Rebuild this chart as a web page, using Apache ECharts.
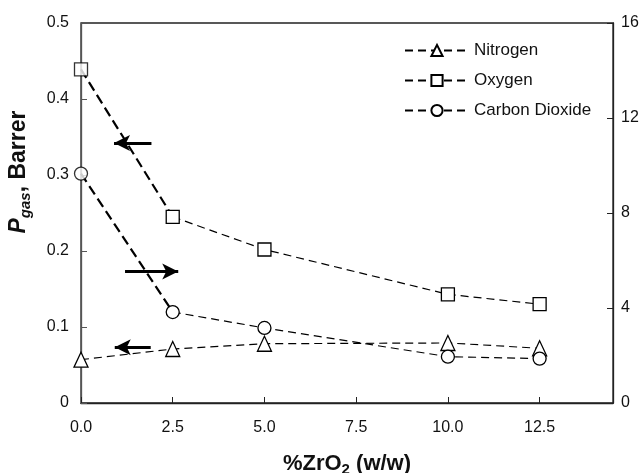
<!DOCTYPE html>
<html><head><meta charset="utf-8">
<script src="https://cdn.jsdelivr.net/npm/echarts@6/dist/echarts.min.js"></script>
<style>html,body{margin:0;padding:0;background:#fff}#c{width:642px;height:473px}</style>
</head><body><div id="c"></div>
<script>
const xValues = [0, 2.5, 5, 10, 12.5];
const nitrogen = [0.057, 0.071, 0.078, 0.079, 0.072];      // left axis
const oxygen = [0.439, 0.245, 0.202, 0.143, 0.130];        // left axis
const carbonDioxide = [9.66, 3.83, 3.16, 1.95, 1.87];      // right axis
const xTicks = [0, 2.5, 5, 7.5, 10, 12.5];
const leftTicks = [0, 0.1, 0.2, 0.3, 0.4, 0.5];
const rightTicks = [0, 4, 8, 12, 16];
// annotation arrows in left-axis data units: [xFrom, xTo, y]
const arrows = [[1.92, 0.9, 0.342], [1.2, 2.65, 0.173], [1.9, 0.92, 0.0735]];

const FONT = 'Liberation Sans, Arial, sans-serif';
const pts = arr => xValues.map((x, i) => [x, arr[i]]);
const lineBase = { color: '#000', type: [8, 5], width: 1.2 };
const itemBase = { color: '#fff', borderColor: '#000', borderWidth: 1.3 };

const chart = echarts.init(document.getElementById('c'), null, { renderer: 'canvas' });
chart.setOption({
  animation: false,
  textStyle: { fontFamily: FONT },
  grid: { left: 81, right: 29, top: 23, bottom: 70, show: true, borderColor: '#222', borderWidth: 1.3,
    containLabel: false, outerBoundsMode: 'none' },
  legend: {
    orient: 'vertical', left: 399, top: 37, itemWidth: 64, itemHeight: 14, itemGap: 13,
    textStyle: { fontSize: 17, color: '#111', fontFamily: FONT },
    data: ['Nitrogen', 'Oxygen', 'Carbon Dioxide']
  },
  graphic: [{
    type: 'text', x: 19, y: 172, rotation: Math.PI / 2,
    style: {
      text: '{p|P}{g|gas}{n|, Barrer}', align: 'center', verticalAlign: 'middle',
      fontFamily: FONT, fill: '#111',
      rich: {
        p: { fontSize: 23, fontWeight: 'bold', fontStyle: 'italic', fontFamily: FONT },
        g: { fontSize: 15, fontWeight: 'bold', fontStyle: 'italic', fontFamily: FONT, verticalAlign: 'bottom', padding: [13, 0, 0, 0] },
        n: { fontSize: 23, fontWeight: 'bold', fontFamily: FONT }
      }
    }
  }],
  xAxis: {
    type: 'value', min: 0, max: 14.5, interval: 2.5,
    name: '%ZrO{s|2} (w/w)', nameLocation: 'middle', nameGap: 47,
    nameTextStyle: { fontSize: 22, fontWeight: 'bold', color: '#111', fontFamily: FONT,
      rich: { s: { fontSize: 15, fontWeight: 'bold', fontFamily: FONT, verticalAlign: 'bottom', padding: [12, 0, 0, 0] } } },
    axisLine: { lineStyle: { color: '#222', width: 1.3 } },
    axisTick: { inside: true, length: 6, lineStyle: { color: '#222' } },
    axisLabel: { fontSize: 16, color: '#111', margin: 17, showMaxLabel: false,
      formatter: v => xTicks.includes(v) ? v.toFixed(1) : '' },
    splitLine: { show: false }
  },
  yAxis: [{
    type: 'value', min: 0, max: 0.5, interval: 0.1, position: 'left',
    axisLine: { show: true, lineStyle: { color: '#555', width: 1.3 } },
    axisTick: { show: true, inside: true, length: 6, lineStyle: { color: '#555' } },
    axisLabel: { fontSize: 16, color: '#111', margin: 12,
      formatter: v => { const t = leftTicks.find(k => Math.abs(k - v) < 1e-9); return t === undefined ? '' : (t === 0 ? '0' : t.toFixed(1)); } },
    splitLine: { show: false }
  }, {
    type: 'value', min: 0, max: 16, interval: 4, position: 'right',
    axisLine: { show: true, lineStyle: { color: '#222', width: 1.3 } },
    axisTick: { show: true, inside: true, length: 6, lineStyle: { color: '#222' } },
    axisLabel: { fontSize: 16, color: '#111', margin: 8,
      formatter: v => rightTicks.includes(v) ? String(v) : '' },
    splitLine: { show: false }
  }],
  series: [
    { name: 'Oxygen-first', type: 'line', yAxisIndex: 0, data: pts(oxygen).slice(0, 2), symbol: 'none',
      lineStyle: { color: '#000', type: [10, 5], width: 2.2 }, z: 1, silent: true },
    { name: 'CO2-first', type: 'line', yAxisIndex: 1, data: pts(carbonDioxide).slice(0, 2), symbol: 'none',
      lineStyle: { color: '#000', type: [10, 5], width: 2.2 }, z: 1, silent: true },
    { name: 'Nitrogen', type: 'line', yAxisIndex: 0, data: pts(nitrogen), symbol: 'triangle', symbolSize: [14, 15],
      lineStyle: lineBase, itemStyle: itemBase, z: 3 },
    { name: 'Oxygen', type: 'line', yAxisIndex: 0, data: pts(oxygen).slice(1), symbol: 'rect', symbolSize: 13,
      lineStyle: lineBase, itemStyle: itemBase, z: 3 },
    { name: 'Carbon Dioxide', type: 'line', yAxisIndex: 1, data: pts(carbonDioxide).slice(1), symbol: 'circle', symbolSize: 13,
      lineStyle: lineBase, itemStyle: itemBase, z: 3 },
    { name: 'Oxygen-m0', type: 'scatter', yAxisIndex: 0, data: pts(oxygen).slice(0, 1), symbol: 'rect', symbolSize: 13,
      itemStyle: itemBase, z: 4, silent: true },
    { name: 'CO2-m0', type: 'scatter', yAxisIndex: 1, data: pts(carbonDioxide).slice(0, 1), symbol: 'circle', symbolSize: 13,
      itemStyle: itemBase, z: 4, silent: true },
    { name: 'arrows', type: 'line', yAxisIndex: 0, data: [], silent: true,
      markLine: {
        silent: true, animation: false, symbol: ['none', 'arrow'], symbolSize: [12, 16],
        label: { show: false },
        lineStyle: { color: '#000', type: 'solid', width: 3 },
        data: arrows.map(a => [{ coord: [a[0], a[2]] }, { coord: [a[1], a[2]] }])
      } }
  ]
});
</script></body></html>
